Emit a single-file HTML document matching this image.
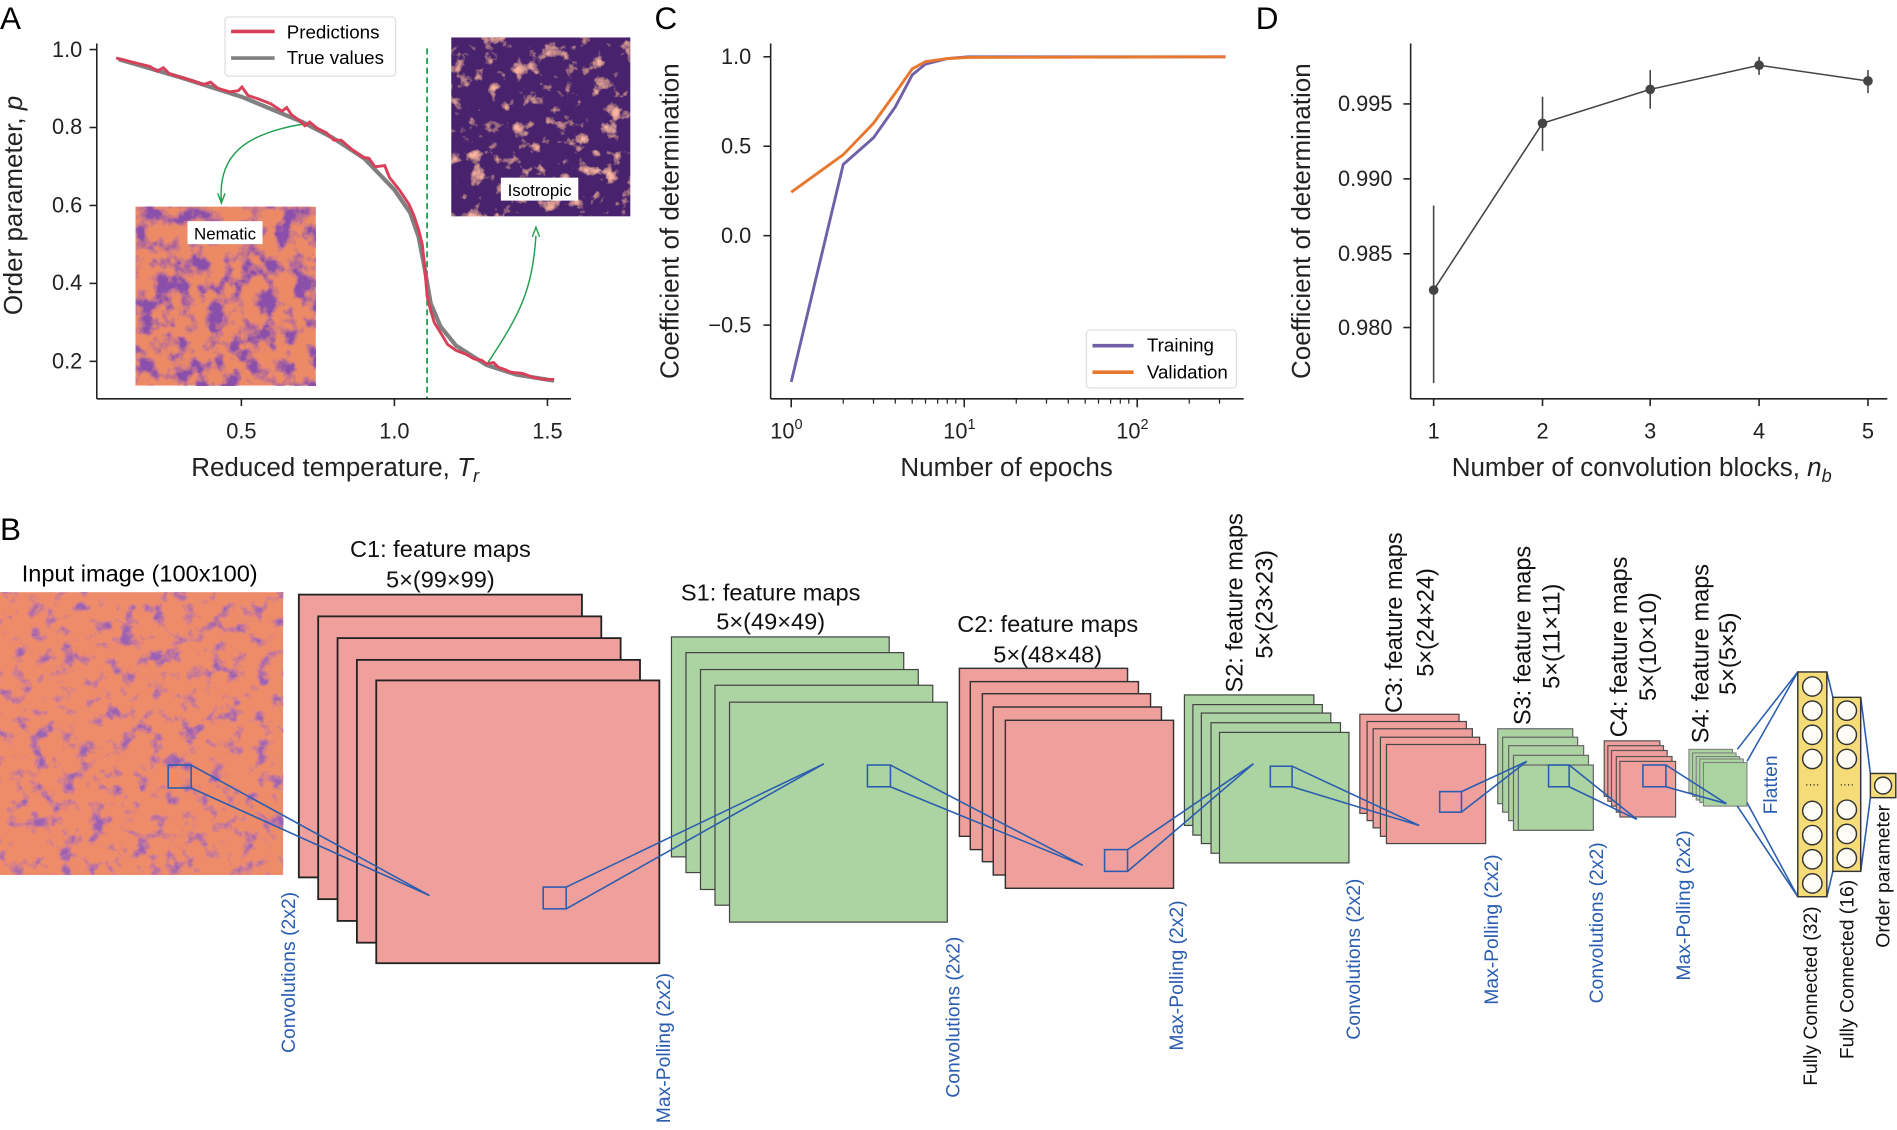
<!DOCTYPE html>
<html><head><meta charset="utf-8"><style>
html,body{margin:0;padding:0;background:#fff;}
svg{display:block;font-family:"Liberation Sans",sans-serif;}
</style></head><body>
<svg width="1897" height="1130" viewBox="0 0 1568 935" preserveAspectRatio="none" xmlns="http://www.w3.org/2000/svg">
<defs>
<filter id="nem" x="0" y="0" width="100%" height="100%">
<feTurbulence type="fractalNoise" baseFrequency="0.07" numOctaves="4" seed="3"/>
<feColorMatrix type="matrix" values="0 0 0 0 0.25  0 0 0 0 0.08  0 0 0 0 0.4  4 0 0 0 -1.75"/>
<feComposite in2="SourceGraphic" operator="over"/>
</filter>
<filter id="inp" x="0" y="0" width="100%" height="100%">
<feTurbulence type="fractalNoise" baseFrequency="0.08" numOctaves="4" seed="7"/>
<feColorMatrix type="matrix" values="0 0 0 0 0.32  0 0 0 0 0.12  0 0 0 0 0.45  4 0 0 0 -2.1"/>
<feComposite in2="SourceGraphic" operator="over"/>
</filter>
<filter id="iso" x="0" y="0" width="100%" height="100%">
<feTurbulence type="fractalNoise" baseFrequency="0.08" numOctaves="4" seed="11"/>
<feColorMatrix type="matrix" values="0 0 0 0 0.95  0 0 0 0 0.45  0 0 0 0 0.35  4 0 0 0 -2.3"/>
<feComposite in2="SourceGraphic" operator="over"/>
</filter>
</defs>

<g font-size="26" fill="#000">
<text x="0" y="24">A</text><text x="541" y="24">C</text><text x="1038" y="24">D</text><text x="0" y="447">B</text>
</g>

<!-- ===== Panel A ===== -->
<rect x="112" y="171" width="149" height="148" fill="#ec8a66" filter="url(#nem)"/>
<rect x="373" y="31" width="148" height="148" fill="#48206e" filter="url(#iso)"/>
<rect x="155" y="183" width="62" height="19" fill="#fff"/><text x="186" y="198" font-size="14" text-anchor="middle">Nematic</text>
<rect x="414" y="147" width="64" height="19" fill="#fff"/><text x="446" y="162" font-size="14" text-anchor="middle">Isotropic</text>
<line x1="353" y1="40" x2="353" y2="330" stroke="#22a050" stroke-width="1.5" stroke-dasharray="5,3"/>
<path d="M255,102 C200,110 180,130 183,167" fill="none" stroke="#22a050" stroke-width="1.2"/>
<path d="M180,160 l3,8 l3,-8" fill="none" stroke="#22a050" stroke-width="1.2"/>
<path d="M402,302 C430,260 440,240 443,195" fill="none" stroke="#22a050" stroke-width="1.2"/>
<path d="M440,196 l3,-8 l3,8" fill="none" stroke="#22a050" stroke-width="1.2"/>
<polyline fill="none" stroke="#808080" stroke-width="3.5" points="98,49 149,64 199.5,80 250,101 275,114 301,131 326,157 339,176 346,196 351,222 356,251 364,270 377,286 402,302 427,310 458,315"/>
<polyline fill="none" stroke="#d8405a" stroke-width="2.4" points="96,48 104,50 112,52 124,55 130,59 135,56 140,61 150,64 160,67 168,70 174,68 180,73 190,76 197,75 200,72 205,79 214,82 224,86 233,92 237,89 241,95 248,100 252,104 256,101 262,106 270,110 276,116 282,116 290,123 300,130 305,131 310,138 318,137 322,147 330,157 338,169 342,178 346,190 349,202 351,220 353,245 356,257 359,267 364,275 370,285 377,290 385,293 392,297 398,298 402,301 408,300 412,304 418,306 422,308 432,309 440,312 450,314 458,314"/>
<g stroke="#222" stroke-width="1.3" fill="none">
<line x1="80" y1="36" x2="80" y2="330"/><line x1="80" y1="330" x2="472" y2="330"/>
<line x1="74" y1="41" x2="80" y2="41"/><line x1="74" y1="105.5" x2="80" y2="105.5"/><line x1="74" y1="170" x2="80" y2="170"/><line x1="74" y1="234.5" x2="80" y2="234.5"/><line x1="74" y1="299" x2="80" y2="299"/>
<line x1="199.5" y1="330" x2="199.5" y2="336"/><line x1="326" y1="330" x2="326" y2="336"/><line x1="452.5" y1="330" x2="452.5" y2="336"/>
</g>
<g font-size="18" fill="#222" text-anchor="end">
<text x="68" y="47">1.0</text><text x="68" y="111">0.8</text><text x="68" y="176">0.6</text><text x="68" y="240">0.4</text><text x="68" y="305">0.2</text>
</g>
<g font-size="18" fill="#222" text-anchor="middle">
<text x="199.5" y="363">0.5</text><text x="326" y="363">1.0</text><text x="452.5" y="363">1.5</text>
</g>
<text x="277" y="394" font-size="21.5" text-anchor="middle" fill="#222">Reduced temperature, <tspan font-style="italic">T</tspan><tspan font-style="italic" font-size="15" dy="5">r</tspan></text>
<text transform="translate(18,170) rotate(-90)" font-size="21.5" text-anchor="middle" fill="#222">Order parameter, <tspan font-style="italic">p</tspan></text>
<rect x="186" y="14" width="141" height="49" fill="#fff" stroke="#ddd" rx="3"/>
<line x1="191" y1="26" x2="227" y2="26" stroke="#d8405a" stroke-width="3"/>
<line x1="191" y1="48" x2="227" y2="48" stroke="#808080" stroke-width="3"/>
<text x="237" y="32" font-size="15.5">Predictions</text><text x="237" y="53" font-size="15.5">True values</text>

<!-- ===== Panel C ===== -->
<polyline fill="none" stroke="#7060a8" stroke-width="2.4" points="654,316 697,136 722,114 740,88.5 754,62 765,53 783,48.5 800,47 1013,47"/>
<polyline fill="none" stroke="#e87830" stroke-width="2.4" points="654,159 697,128 722,102 740,77 754,57 765,51 783,48.5 800,47.5 1013,47"/>
<g stroke="#222" stroke-width="1.3" fill="none">
<line x1="637" y1="36" x2="637" y2="330"/><line x1="637" y1="330" x2="1028" y2="330"/>
<line x1="631" y1="47" x2="637" y2="47"/><line x1="631" y1="121" x2="637" y2="121"/><line x1="631" y1="195" x2="637" y2="195"/><line x1="631" y1="269" x2="637" y2="269"/>
<line x1="654" y1="330" x2="654" y2="337"/><line x1="797" y1="330" x2="797" y2="337"/><line x1="940" y1="330" x2="940" y2="337"/>
</g>
<g stroke="#222" stroke-width="1">
<line x1="697" y1="330" x2="697" y2="334"/><line x1="722" y1="330" x2="722" y2="334"/><line x1="740" y1="330" x2="740" y2="334"/><line x1="754" y1="330" x2="754" y2="334"/><line x1="765" y1="330" x2="765" y2="334"/><line x1="775" y1="330" x2="775" y2="334"/><line x1="783" y1="330" x2="783" y2="334"/><line x1="790" y1="330" x2="790" y2="334"/>
<line x1="840" y1="330" x2="840" y2="334"/><line x1="865" y1="330" x2="865" y2="334"/><line x1="883" y1="330" x2="883" y2="334"/><line x1="897" y1="330" x2="897" y2="334"/><line x1="908" y1="330" x2="908" y2="334"/><line x1="918" y1="330" x2="918" y2="334"/><line x1="926" y1="330" x2="926" y2="334"/><line x1="933" y1="330" x2="933" y2="334"/>
<line x1="983" y1="330" x2="983" y2="334"/><line x1="1008" y1="330" x2="1008" y2="334"/>
</g>
<g font-size="18" fill="#222" text-anchor="end">
<text x="621" y="53">1.0</text><text x="621" y="127">0.5</text><text x="621" y="201">0.0</text><text x="621" y="275">−0.5</text>
</g>
<g font-size="18" fill="#222" text-anchor="middle">
<text x="650" y="363">10<tspan font-size="12" dy="-8">0</tspan></text><text x="793" y="363">10<tspan font-size="12" dy="-8">1</tspan></text><text x="936" y="363">10<tspan font-size="12" dy="-8">2</tspan></text>
</g>
<text x="832" y="394" font-size="21.5" text-anchor="middle" fill="#222">Number of epochs</text>
<text transform="translate(561,183) rotate(-90)" font-size="21.5" text-anchor="middle" fill="#222">Coefficient of determination</text>
<rect x="898" y="273" width="124" height="48" fill="#fff" stroke="#ddd" rx="3"/>
<line x1="903" y1="286" x2="937" y2="286" stroke="#7060a8" stroke-width="3"/>
<line x1="903" y1="308" x2="937" y2="308" stroke="#e87830" stroke-width="3"/>
<text x="948" y="291" font-size="15.5">Training</text><text x="948" y="313" font-size="15.5">Validation</text>

<!-- ===== Panel D ===== -->
<g stroke="#444" stroke-width="1.3" fill="none">
<line x1="1185" y1="170" x2="1185" y2="317"/><line x1="1275" y1="80" x2="1275" y2="125"/><line x1="1364" y1="58" x2="1364" y2="90"/><line x1="1454" y1="47" x2="1454" y2="62"/><line x1="1544" y1="58" x2="1544" y2="77"/>
<polyline points="1185,240 1275,102 1364,74 1454,54 1544,67"/>
</g>
<g fill="#444"><circle cx="1185" cy="240" r="4"/><circle cx="1275" cy="102" r="4"/><circle cx="1364" cy="74" r="4"/><circle cx="1454" cy="54" r="4"/><circle cx="1544" cy="67" r="4"/></g>
<g stroke="#222" stroke-width="1.3" fill="none">
<line x1="1166" y1="36" x2="1166" y2="330"/><line x1="1166" y1="330" x2="1560" y2="330"/>
<line x1="1160" y1="86" x2="1166" y2="86"/><line x1="1160" y1="148" x2="1166" y2="148"/><line x1="1160" y1="210" x2="1166" y2="210"/><line x1="1160" y1="271" x2="1166" y2="271"/>
<line x1="1185" y1="330" x2="1185" y2="336"/><line x1="1275" y1="330" x2="1275" y2="336"/><line x1="1364" y1="330" x2="1364" y2="336"/><line x1="1454" y1="330" x2="1454" y2="336"/><line x1="1544" y1="330" x2="1544" y2="336"/>
</g>
<g font-size="18" fill="#222" text-anchor="end">
<text x="1151" y="92">0.995</text><text x="1151" y="154">0.990</text><text x="1151" y="216">0.985</text><text x="1151" y="277">0.980</text>
</g>
<g font-size="18" fill="#222" text-anchor="middle">
<text x="1185" y="363">1</text><text x="1275" y="363">2</text><text x="1364" y="363">3</text><text x="1454" y="363">4</text><text x="1544" y="363">5</text>
</g>
<text x="1357" y="394" font-size="21.5" text-anchor="middle" fill="#222">Number of convolution blocks, <tspan font-style="italic">n</tspan><tspan font-style="italic" font-size="15" dy="5">b</tspan></text>
<text transform="translate(1083,183) rotate(-90)" font-size="21.5" text-anchor="middle" fill="#222">Coefficient of determination</text>

<!-- ===== Panel B ===== -->
<rect x="0" y="490" width="234" height="234" fill="#ee8c6a" filter="url(#inp)"/>
<text x="18" y="481" font-size="19.5">Input image (100x100)</text>

<g stroke="#222" stroke-width="1.5" fill="#f0a09c">
<rect x="247" y="492" width="234" height="234"/><rect x="263" y="510" width="234" height="234"/><rect x="279" y="528" width="234" height="234"/><rect x="295" y="546" width="234" height="234"/><rect x="311" y="563" width="234" height="234"/>
</g>
<g stroke="#444" stroke-width="1" fill="#acd3a2">
<rect x="555" y="527" width="180" height="182"/><rect x="567" y="540" width="180" height="182"/><rect x="579" y="554" width="180" height="182"/><rect x="591" y="567" width="180" height="182"/><rect x="603" y="581" width="180" height="182"/>
</g>
<g stroke="#333" stroke-width="1.2" fill="#f0a09c">
<rect x="793" y="553" width="139" height="139"/><rect x="802" y="564" width="139" height="139"/><rect x="812" y="574" width="139" height="139"/><rect x="821" y="585" width="139" height="139"/><rect x="831" y="596" width="139" height="139"/>
</g>
<g stroke="#444" stroke-width="1" fill="#acd3a2">
<rect x="979" y="575" width="107" height="108"/><rect x="986" y="583" width="107" height="108"/><rect x="993" y="590" width="107" height="108"/><rect x="1001" y="598" width="107" height="108"/><rect x="1008" y="606" width="107" height="108"/>
</g>
<g stroke="#444" stroke-width="1" fill="#f0a09c">
<rect x="1124" y="591" width="82" height="82"/><rect x="1130" y="597" width="82" height="82"/><rect x="1135" y="603" width="82" height="82"/><rect x="1141" y="610" width="82" height="82"/><rect x="1146" y="616" width="82" height="82"/>
</g>
<g stroke="#666" stroke-width="1" fill="#acd3a2">
<rect x="1238" y="603" width="62" height="62"/><rect x="1242" y="610" width="62" height="62"/><rect x="1247" y="617" width="62" height="62"/><rect x="1251" y="625" width="62" height="62"/><rect x="1255" y="633" width="62" height="54"/>
</g>
<g stroke="#555" stroke-width="1" fill="#f0a09c">
<rect x="1326" y="613" width="46" height="46"/><rect x="1329" y="617" width="46" height="46"/><rect x="1332" y="621" width="46" height="46"/><rect x="1336" y="626" width="46" height="46"/><rect x="1339" y="630" width="46" height="46"/>
</g>
<g stroke="#777" stroke-width="0.8" fill="#acd3a2">
<rect x="1396" y="620" width="36" height="36"/><rect x="1399" y="623" width="36" height="36"/><rect x="1402" y="626" width="36" height="36"/><rect x="1405" y="628" width="36" height="36"/><rect x="1408" y="631" width="36" height="36"/>
</g>

<g stroke="#2a5db0" stroke-width="1.3" fill="none">
<rect x="139" y="633" width="19" height="19"/><line x1="158" y1="633" x2="355" y2="741"/><line x1="158" y1="652" x2="355" y2="741"/>
<rect x="449" y="734" width="19" height="18"/><line x1="468" y1="734" x2="681" y2="632"/><line x1="468" y1="752" x2="681" y2="632"/>
<rect x="717" y="633" width="19" height="18"/><line x1="736" y1="633" x2="895" y2="716"/><line x1="736" y1="651" x2="895" y2="716"/>
<rect x="913" y="703" width="19" height="18"/><line x1="932" y1="703" x2="1036" y2="632"/><line x1="932" y1="721" x2="1036" y2="632"/>
<rect x="1050" y="634" width="18" height="17"/><line x1="1068" y1="634" x2="1173" y2="683"/><line x1="1068" y1="651" x2="1173" y2="683"/>
<rect x="1190" y="655" width="18" height="17"/><line x1="1208" y1="655" x2="1262" y2="630"/><line x1="1208" y1="672" x2="1262" y2="630"/>
<rect x="1280" y="633" width="17" height="18"/><line x1="1297" y1="633" x2="1353" y2="678"/><line x1="1297" y1="651" x2="1353" y2="678"/>
<rect x="1358" y="633" width="19" height="18"/><line x1="1377" y1="633" x2="1427" y2="665"/><line x1="1377" y1="651" x2="1427" y2="665"/>
<line x1="1436" y1="620" x2="1486" y2="556"/><line x1="1444" y1="630" x2="1486" y2="556"/>
<line x1="1436" y1="667" x2="1486" y2="742"/><line x1="1444" y1="664" x2="1486" y2="742"/>
<line x1="1510" y1="556" x2="1515" y2="577"/><line x1="1510" y1="742" x2="1515" y2="721"/>
<line x1="1538" y1="577" x2="1546" y2="640"/><line x1="1538" y1="721" x2="1546" y2="660"/>
</g>

<rect x="1486" y="556" width="24" height="186" fill="#f5dc78" stroke="#333" stroke-width="1.2"/>
<g fill="#fdfcf5" stroke="#333" stroke-width="1.2">
<circle cx="1498" cy="568" r="8"/><circle cx="1498" cy="588" r="8"/><circle cx="1498" cy="608" r="8"/><circle cx="1498" cy="628" r="8"/>
<circle cx="1498" cy="671" r="8"/><circle cx="1498" cy="691" r="8"/><circle cx="1498" cy="711" r="8"/><circle cx="1498" cy="731" r="8"/>
</g>
<text x="1498" y="652" font-size="9" text-anchor="middle">····</text>
<rect x="1515" y="577" width="23" height="144" fill="#f5dc78" stroke="#333" stroke-width="1.2"/>
<g fill="#fdfcf5" stroke="#333" stroke-width="1.2">
<circle cx="1526.5" cy="588" r="8"/><circle cx="1526.5" cy="608" r="8"/><circle cx="1526.5" cy="628" r="8"/>
<circle cx="1526.5" cy="670" r="8"/><circle cx="1526.5" cy="690" r="8"/><circle cx="1526.5" cy="710" r="8"/>
</g>
<text x="1526.5" y="652" font-size="9" text-anchor="middle">····</text>
<rect x="1546" y="640" width="21" height="20" fill="#f5dc78" stroke="#333" stroke-width="1.2"/>
<circle cx="1556.5" cy="650" r="7" fill="#fdfcf5" stroke="#333" stroke-width="1.2"/>

<g font-size="19.5" fill="#111" text-anchor="middle">
<text x="364" y="461">C1: feature maps</text><text x="364" y="486">5×(99×99)</text>
<text x="637" y="497">S1: feature maps</text><text x="637" y="521">5×(49×49)</text>
<text x="866" y="523">C2: feature maps</text><text x="866" y="548">5×(48×48)</text>
</g>
<g font-size="19.5" fill="#111" text-anchor="start">
<text transform="translate(1027,573) rotate(-90)">S2: feature maps</text>
<text transform="translate(1052,545) rotate(-90)">5×(23×23)</text>
<text transform="translate(1159,590) rotate(-90)">C3: feature maps</text>
<text transform="translate(1185,560) rotate(-90)">5×(24×24)</text>
<text transform="translate(1265,600) rotate(-90)">S3: feature maps</text>
<text transform="translate(1289,570) rotate(-90)">5×(11×11)</text>
<text transform="translate(1345,610) rotate(-90)">C4: feature maps</text>
<text transform="translate(1369,580) rotate(-90)">5×(10×10)</text>
<text transform="translate(1412,615) rotate(-90)">S4: feature maps</text>
<text transform="translate(1435,575) rotate(-90)">5×(5×5)</text>
</g>
<g font-size="16" fill="#2a5db0" text-anchor="end">
<text transform="translate(244,738) rotate(-90)">Convolutions (2x2)</text>
<text transform="translate(554,805) rotate(-90)">Max-Polling (2x2)</text>
<text transform="translate(793,775) rotate(-90)">Convolutions (2x2)</text>
<text transform="translate(978,745) rotate(-90)">Max-Polling (2x2)</text>
<text transform="translate(1124,727) rotate(-90)">Convolutions (2x2)</text>
<text transform="translate(1238,707) rotate(-90)">Max-Polling (2x2)</text>
<text transform="translate(1325,697) rotate(-90)">Convolutions (2x2)</text>
<text transform="translate(1397,687) rotate(-90)">Max-Polling (2x2)</text>
<text transform="translate(1469,625) rotate(-90)">Flatten</text>
</g>
<g font-size="16" fill="#111" text-anchor="end">
<text transform="translate(1502,750) rotate(-90)">Fully Connected (32)</text>
<text transform="translate(1532,728) rotate(-90)">Fully Connected (16)</text>
<text transform="translate(1562,666) rotate(-90)">Order parameter</text>
</g>
</svg>
</body></html>
